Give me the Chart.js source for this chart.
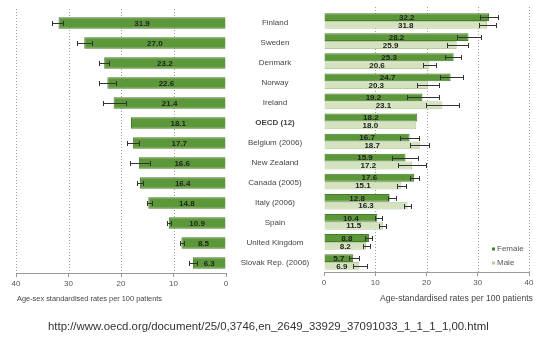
<!DOCTYPE html>
<html>
<head>
<meta charset="utf-8">
<script src="https://cdn.jsdelivr.net/npm/chart.js@4.4.1/dist/chart.umd.min.js"></script>
<style>
  html, body { margin: 0; padding: 0; background: #fff; width: 536px; height: 341px; overflow: hidden; position: relative;
    font-family: "Liberation Sans", Arial, sans-serif; }
  #wrapL { position: absolute; left: 0; top: 0; width: 324px; height: 305px; }
  #wrapR { position: absolute; left: 300px; top: 0; width: 236px; height: 305px; }
  .ttl { position: absolute; color: #444; white-space: nowrap; }
  #url { position: absolute; left: 48px; top: 320px; font-size: 11.4px; color: #333; white-space: nowrap; }
</style>
</head>
<body>
<div id="wrapL"><canvas id="left" width="324" height="305"></canvas></div>
<div id="wrapR"><canvas id="right" width="236" height="305"></canvas></div>
<div class="ttl" style="left:17px; top:294px; font-size:7.4px;">Age-sex standardised rates per 100 patients</div>
<div class="ttl" style="left:380px; top:293px; font-size:8.6px;">Age-standardised rates per 100 patients</div>
<div id="url">http://www.oecd.org/document/25/0,3746,en_2649_33929_37091033_1_1_1_1,00.html</div>

<script>
// Categories, top to bottom
const countries = ['Finland', 'Sweden', 'Denmark', 'Norway', 'Ireland', 'OECD (12)', 'Belgium (2006)',
  'New Zealand', 'Canada (2005)', 'Italy (2006)', 'Spain', 'United Kingdom', 'Slovak Rep. (2006)'];

// Left panel: age-sex standardised rates, with confidence interval bounds
const totalRates = [31.9, 27.0, 23.2, 22.6, 21.4, 18.1, 17.7, 16.6, 16.4, 14.8, 10.9, 8.5, 6.3];
const totalLow   = [31.0, 25.5, 22.3, 21.0, 19.0, null, 16.6, 14.5, 15.8, 14.1, 10.4, 8.0, 5.6];
const totalHigh  = [33.1, 28.4, 24.2, 24.2, 23.4, null, 18.9, 18.3, 17.0, 15.1, 11.3, 8.8, 7.0];

// Right panel: age-standardised rates by sex
const femaleRates = [32.2, 28.2, 25.3, 24.7, 19.2, 18.2, 16.7, 15.9, 17.6, 12.8, 10.4, 8.8, 5.7];
const femaleLow   = [30.5, 25.9, 23.6, 22.7, 16.1, null, 14.8, 13.2, 16.8, 12.4, 10.0, 8.0, 4.9];
const femaleHigh  = [34.0, 30.6, 26.8, 27.2, 22.4, null, 18.6, 18.4, 18.6, 14.1, 11.3, 9.3, 6.9];
const maleRates   = [31.8, 25.9, 20.6, 20.3, 23.1, 18.0, 18.7, 17.2, 15.1, 16.3, 11.5, 8.2, 6.9];
const maleLow     = [30.3, 24.0, 19.3, 18.1, 19.9, null, 16.8, 14.5, 14.2, 15.6, 10.7, 7.7, 5.7];
const maleHigh    = [33.5, 28.0, 21.9, 22.5, 26.3, null, 20.4, 19.9, 16.0, 17.0, 12.1, 8.9, 8.3];

const axisTicks = [0, 10, 20, 30, 40];

const FONT = '"Liberation Sans", Arial, sans-serif';
const DARK = '#5c973a', DARK_EDGE = '#477c2a';
const LIGHT = '#d4e2bf', LIGHT_EDGE = '#b8cc9e';

// Value labels centred inside each bar
const valueLabels = {
  id: 'valueLabels',
  afterDatasetsDraw(chart) {
    const ctx = chart.ctx;
    ctx.save();
    ctx.font = 'bold 8px ' + FONT;
    ctx.fillStyle = '#222';
    ctx.textAlign = 'center';
    ctx.textBaseline = 'middle';
    chart.data.datasets.forEach((ds, i) => {
      chart.getDatasetMeta(i).data.forEach((el, j) => {
        const cx = (el.x + el.base) / 2;
        ctx.fillText(ds.data[j].toFixed(1), cx, el.y + 0.5);
      });
    });
    ctx.restore();
  }
};

// Confidence interval whiskers
const errorBars = {
  id: 'errorBars',
  afterDatasetsDraw(chart) {
    const ctx = chart.ctx;
    const xs = chart.scales.x;
    ctx.save();
    ctx.strokeStyle = '#333';
    ctx.lineWidth = 1;
    chart.data.datasets.forEach((ds, i) => {
      if (!ds.errLow) return;
      chart.getDatasetMeta(i).data.forEach((el, j) => {
        const lo = ds.errLow[j], hi = ds.errHigh[j];
        if (lo == null || hi == null) return;
        const x1 = Math.round(xs.getPixelForValue(lo)) + 0.5;
        const x2 = Math.round(xs.getPixelForValue(hi)) + 0.5;
        const y = Math.round(el.y) + 0.5;
        ctx.beginPath();
        ctx.moveTo(x1, y); ctx.lineTo(x2, y);
        ctx.moveTo(x1, y - 2.5); ctx.lineTo(x1, y + 2.5);
        ctx.moveTo(x2, y - 2.5); ctx.lineTo(x2, y + 2.5);
        ctx.stroke();
      });
    });
    ctx.restore();
  }
};

// Country names in the gap between the two panels
const categoryNames = {
  id: 'categoryNames',
  afterDraw(chart) {
    const ctx = chart.ctx;
    const ys = chart.scales.y;
    const cx = (chart.chartArea.right + chart.width) / 2;
    ctx.save();
    ctx.fillStyle = '#444';
    ctx.textAlign = 'center';
    ctx.textBaseline = 'middle';
    chart.data.labels.forEach((name, i) => {
      ctx.font = (name.startsWith('OECD') ? 'bold ' : '') + '8px ' + FONT;
      ctx.fillText(name, cx, ys.getPixelForValue(i));
    });
    ctx.restore();
  }
};

// Dotted vertical reference lines at the labelled ticks (drawn under the bars)
const dottedGrid = {
  id: 'dottedGrid',
  beforeDatasetsDraw(chart) {
    const ctx = chart.ctx;
    const xs = chart.scales.x;
    const {top, bottom} = chart.chartArea;
    ctx.save();
    ctx.strokeStyle = '#a2a2a2';
    ctx.lineWidth = 1;
    ctx.setLineDash([1, 2]);
    axisTicks.forEach(v => {
      if (v === 0) return;
      const x = Math.round(xs.getPixelForValue(v)) + 0.5;
      ctx.beginPath();
      ctx.moveTo(x, top - 4);
      ctx.lineTo(x, bottom);
      ctx.stroke();
    });
    ctx.restore();
  }
};

// Small legend in the lower right of the sex panel
const sexLegend = {
  id: 'sexLegend',
  afterDraw(chart) {
    const ctx = chart.ctx;
    const x = chart.chartArea.right - 37;
    const y0 = chart.chartArea.bottom - 23;
    ctx.save();
    ctx.font = '8px ' + FONT;
    ctx.textBaseline = 'middle';
    chart.data.datasets.forEach((ds, i) => {
      const y = y0 + i * 14;
      ctx.fillStyle = ds.borderColor;
      ctx.fillRect(x, y - 1.5, 3, 3);
      ctx.fillStyle = '#555';
      ctx.fillText(ds.label, x + 5, y);
    });
    ctx.restore();
  }
};

function xAxis(reverse, axisHeight) {
  return {
    type: 'linear',
    reverse: reverse,
    min: 0,
    max: 40,
    afterBuildTicks(scale) { scale.ticks = axisTicks.map(v => ({ value: v })); },
    afterFit(scale) { scale.height = axisHeight; },
    ticks: { color: '#555', font: { size: 8, family: FONT }, padding: 2 },
    grid: {
      drawOnChartArea: false,
      tickColor: '#999',
      tickLength: 4,
      lineWidth: 1
    },
    border: { color: '#9a9a9a' }
  };
}

Chart.defaults.font.family = FONT;

new Chart(document.getElementById('left'), {
  type: 'bar',
  data: {
    labels: countries,
    datasets: [{
      label: 'Total',
      data: totalRates,
      errLow: totalLow,
      errHigh: totalHigh,
      backgroundColor: DARK,
      borderColor: DARK_EDGE,
      borderWidth: 1,
      barPercentage: 0.57,
      categoryPercentage: 1
    }]
  },
  options: {
    indexAxis: 'y',
    responsive: false,
    animation: false,
    layout: { padding: { left: 16, right: 98, top: 13, bottom: 0 } },
    plugins: { legend: { display: false }, tooltip: { enabled: false } },
    scales: {
      x: xAxis(true, 32),
      y: { display: false }
    }
  },
  plugins: [dottedGrid, valueLabels, errorBars, categoryNames]
});

new Chart(document.getElementById('right'), {
  type: 'bar',
  data: {
    labels: countries,
    datasets: [{
      label: 'Female',
      data: femaleRates,
      errLow: femaleLow,
      errHigh: femaleHigh,
      backgroundColor: DARK,
      borderColor: DARK_EDGE,
      borderWidth: 1,
      barPercentage: 1,
      categoryPercentage: 0.78
    }, {
      label: 'Male',
      data: maleRates,
      errLow: maleLow,
      errHigh: maleHigh,
      backgroundColor: LIGHT,
      borderColor: LIGHT_EDGE,
      borderWidth: 1,
      barPercentage: 1,
      categoryPercentage: 0.78
    }]
  },
  options: {
    indexAxis: 'y',
    responsive: false,
    animation: false,
    layout: { padding: { left: 24, right: 7, top: 11, bottom: 0 } },
    plugins: { legend: { display: false }, tooltip: { enabled: false } },
    scales: {
      x: xAxis(false, 33),
      y: { display: false }
    }
  },
  plugins: [dottedGrid, valueLabels, errorBars, sexLegend]
});
</script>
</body>
</html>
